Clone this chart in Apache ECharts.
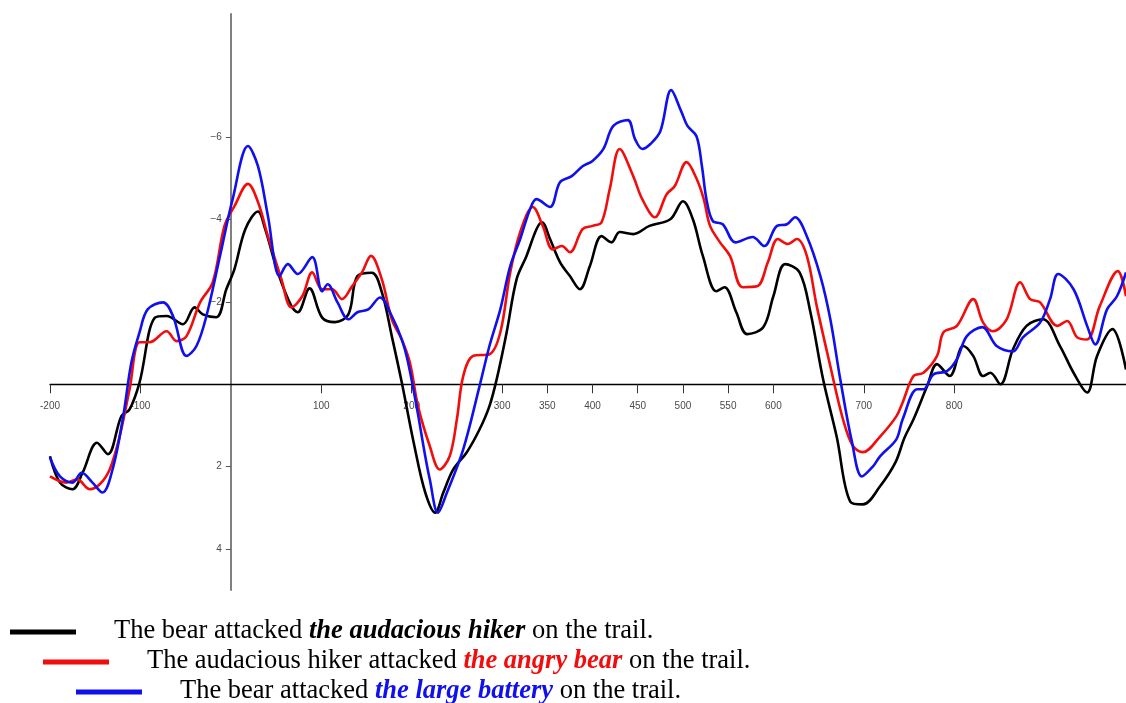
<!DOCTYPE html>
<html>
<head>
<meta charset="utf-8">
<title>ERP waveforms</title>
<script src="https://cdn.jsdelivr.net/npm/echarts@6/dist/echarts.min.js"></script>
<style>
  html, body { margin: 0; padding: 0; background: #fff; }
  #chart { width: 1126px; height: 703px; }
</style>
</head>
<body>
<div id="chart"></div>
<script>
// Time points (ms) and amplitudes (µV) for each condition
const timesHiker = [-200,-189,-175,-164,-148,-136,-121,-112,-101,-84,-71,-53,-40,-31,-16,-5,4,16,30,38,52,67,74,87,101,115,130,140,156,167,178,189,203,215,226,235,246,261,275,286,294,305,316,327,338,344,353,364,375,386,397,410,421,430,445,463,486,500,511,522,537,546,559,571,589,600,613,629,641,655,670,685,699,718,735,745,755,770,781,795,810,821,832,840,851,865,880,898,917,932,947,958,975,990];
const voltsHiker = [1.75,2.39,2.55,2.15,1.42,1.70,0.77,0.61,-0.04,-1.62,-1.66,-1.46,-1.87,-1.70,-1.63,-2.31,-2.8,-3.77,-4.2,-3.77,-2.72,-1.9,-1.75,-2.33,-1.62,-1.51,-1.70,-2.63,-2.71,-2.24,-1.17,-0.05,1.5,2.63,3.12,2.63,2.07,1.65,1.1,0.53,-0.12,-1.26,-2.55,-3.12,-3.77,-3.94,-3.53,-2.97,-2.63,-2.31,-2.87,-3.6,-3.45,-3.7,-3.65,-3.85,-4.01,-4.45,-4.01,-3.12,-2.26,-2.36,-1.75,-1.22,-1.39,-2.14,-2.92,-2.72,-1.75,-0.12,1.27,2.85,2.92,2.48,1.9,1.3,0.85,0.05,-0.49,-0.2,-0.93,-0.69,-0.2,-0.28,0,-0.85,-1.42,-1.58,-0.93,-0.28,0.2,-0.69,-1.34,-0.36];

const timesBear = [-200,-182,-170,-156,-145,-134,-123,-112,-101,-90,-71,-60,-49,-34,-20,-7,4,19,30,41,56,67,79,90,101,112,123,134,145,155,167,178,189,198,207,220,231,242,250,257,268,286,298,309,320,334,345,356,366,375,389,400,410,419,430,445,455,469,482,491,504,515,523,530,541,552,566,582,594,605,616,626,637,648,663,677,688,699,718,736,743,755,766,781,788,803,821,832,843,858,873,884,895,914,925,936,947,961,981,990];
const voltsBear = [2.24,2.39,2.31,2.55,2.43,2.07,1.27,0.12,-1.02,-1.02,-1.29,-1.05,-1.17,-1.99,-2.48,-3.85,-4.33,-4.87,-4.43,-3.6,-2.55,-1.87,-2.14,-2.72,-2.31,-2.31,-2.07,-2.38,-2.72,-3.12,-2.55,-1.58,-1.09,-0.53,0.53,1.5,2.07,1.75,0.85,-0.2,-0.69,-0.73,-1.26,-2.72,-3.7,-4.31,-3.85,-3.28,-3.36,-3.21,-3.77,-3.85,-3.94,-4.74,-5.72,-5.06,-4.5,-4.06,-4.62,-4.82,-5.4,-5.0,-4.5,-3.85,-3.45,-3.12,-2.36,-2.38,-2.97,-3.53,-3.41,-3.53,-3.12,-1.9,-0.44,0.85,1.5,1.65,1.27,0.78,0.44,-0.2,-0.28,-0.69,-1.26,-1.42,-2.07,-1.5,-1.29,-1.58,-2.48,-2.07,-1.99,-1.42,-1.54,-1.14,-1.09,-1.9,-2.75,-2.14];

const timesBattery = [-200,-189,-175,-165,-153,-142,-130,-119,-110,-101,-92,-75,-64,-49,-38,-27,-12,2,19,30,41,54,63,74,90,101,107,118,130,140,152,165,178,189,196,206,215,220,229,239,257,275,286,298,309,320,331,338,353,364,377,389,400,412,423,439,447,455,464,475,487,498,505,515,521,526,533,544,558,577,590,604,615,624,637,652,663,674,687,698,710,718,736,743,759,766,777,792,803,814,831,847,865,876,895,906,915,932,947,956,969,980,990];
const voltsBattery = [1.78,2.24,2.39,2.15,2.39,2.63,2.0,0.77,-0.53,-1.26,-1.82,-1.99,-1.66,-0.69,-0.93,-1.66,-3.12,-4.5,-5.79,-5.3,-4.09,-2.63,-2.92,-2.68,-3.09,-2.26,-2.43,-1.99,-1.58,-1.75,-1.82,-2.11,-1.66,-1.09,-0.53,0.61,1.75,2.31,3.12,2.63,1.58,0.05,-0.93,-1.82,-2.87,-3.53,-4.26,-4.5,-4.31,-4.91,-5.06,-5.3,-5.43,-5.72,-6.28,-6.42,-5.96,-5.72,-5.84,-6.15,-7.15,-6.64,-6.28,-6.03,-5.3,-4.5,-3.97,-3.89,-3.45,-3.58,-3.36,-3.85,-3.89,-4.06,-3.6,-2.63,-1.58,-0.12,1.41,2.24,2.0,1.75,1.34,0.85,0.12,0.12,-0.24,-0.32,-0.61,-1.17,-1.39,-0.93,-0.8,-1.14,-1.5,-2.07,-2.68,-2.31,-1.42,-0.97,-1.82,-2.14,-2.72];

// Axis tick positions
const timeTicks = [-200,-100,100,200,300,350,400,450,500,550,600,700,800];
const voltTicks = [-6,-4,-2,2,4];

// Legend sentences: plain lead-in, emphasised target phrase, plain ending
const legendLead = ['The bear attacked ', 'The audacious hiker attacked ', 'The bear attacked '];
const legendEmph = ['the audacious hiker', 'the angry bear', 'the large battery'];
const legendTail = [' on the trail.', ' on the trail.', ' on the trail.'];
const lineColors = ['#000000', '#f20d0d', '#1010ee'];

const zip = (t, v) => t.map((x, i) => [x, v[i]]);
const seriesData = [
  zip(timesHiker, voltsHiker),
  zip(timesBear, voltsBear),
  zip(timesBattery, voltsBattery)
];

// Plot box and axis ranges
const GRID = { left: 50, right: 0, top: 14, bottom: 113 };
const W = 1126, H = 703;
const X_MIN = -200, X_MAX = 990, Y_MIN = -9, Y_MAX = 5;
const plotW = W - GRID.left - GRID.right;
const plotH = H - GRID.top - GRID.bottom;
// Shift each axis from the plot edge onto the other axis' zero
const xAxisOffset = -plotH * (Y_MAX - 0) / (Y_MAX - Y_MIN);
const yAxisOffset = -plotW * (0 - X_MIN) / (X_MAX - X_MIN);

const chart = echarts.init(document.getElementById('chart'), null, { renderer: 'canvas' });

const tickLabelStyle = {
  fontFamily: 'Liberation Sans, Arial, sans-serif',
  fontSize: 10,
  color: '#4a4a4a'
};

// Legend block: staggered sample lines with sentences beside them
const legendGraphics = [];
const rowY = [632, 662, 692];
const lineX = [10, 43, 76];
const textX = [114, 147, 180];
const serif = 'Liberation Serif, Times New Roman, serif';
for (let i = 0; i < 3; i++) {
  legendGraphics.push({
    type: 'line',
    shape: { x1: lineX[i], y1: rowY[i], x2: lineX[i] + 66, y2: rowY[i] },
    style: { stroke: lineColors[i], lineWidth: 5 },
    silent: true
  });
  legendGraphics.push({
    type: 'text',
    x: textX[i],
    y: rowY[i] - 1,
    style: {
      text: '{n|' + legendLead[i] + '}{e|' + legendEmph[i] + '}{n|' + legendTail[i] + '}',
      verticalAlign: 'middle',
      rich: {
        n: { fontFamily: serif, fontSize: 26.5, fill: '#000' },
        e: { fontFamily: serif, fontSize: 26.5, fontWeight: 'bold', fontStyle: 'italic', fill: lineColors[i] }
      }
    },
    silent: true
  });
}

chart.setOption({
  animation: false,
  backgroundColor: '#ffffff',
  grid: { ...GRID, containLabel: false },
  xAxis: {
    type: 'value',
    position: 'bottom',
    offset: xAxisOffset,
    min: X_MIN,
    max: X_MAX,
    interval: 50,
    axisLine: { onZero: false, lineStyle: { color: '#000', width: 1.3 } },
    axisTick: { show: true, customValues: timeTicks, length: 9, lineStyle: { color: '#333', width: 1 } },
    axisLabel: {
      margin: 17,
      showMinLabel: true,
      showMaxLabel: false,
      formatter: v => (timeTicks.includes(v) ? String(v) : ''),
      ...tickLabelStyle
    },
    splitLine: { show: false }
  },
  yAxis: {
    type: 'value',
    position: 'left',
    offset: yAxisOffset,
    inverse: true,
    min: Y_MIN,
    max: Y_MAX,
    interval: 1,
    axisLine: { show: true, onZero: false, lineStyle: { color: '#808080', width: 2 } },
    axisTick: { show: true, customValues: voltTicks, length: 5, lineStyle: { color: '#555', width: 1 } },
    axisLabel: {
      margin: 9,
      formatter: v => (voltTicks.includes(v) ? (v < 0 ? '\u2212' + (-v) : String(v)) : ''),
      ...tickLabelStyle
    },
    splitLine: { show: false }
  },
  series: seriesData.map((d, i) => ({
    type: 'line',
    name: legendEmph[i],
    data: d,
    showSymbol: false,
    smooth: 0.35,
    clip: true,
    lineStyle: { color: lineColors[i], width: 2.6 },
    z: 2 + i
  })),
  graphic: legendGraphics
});
</script>
</body>
</html>
